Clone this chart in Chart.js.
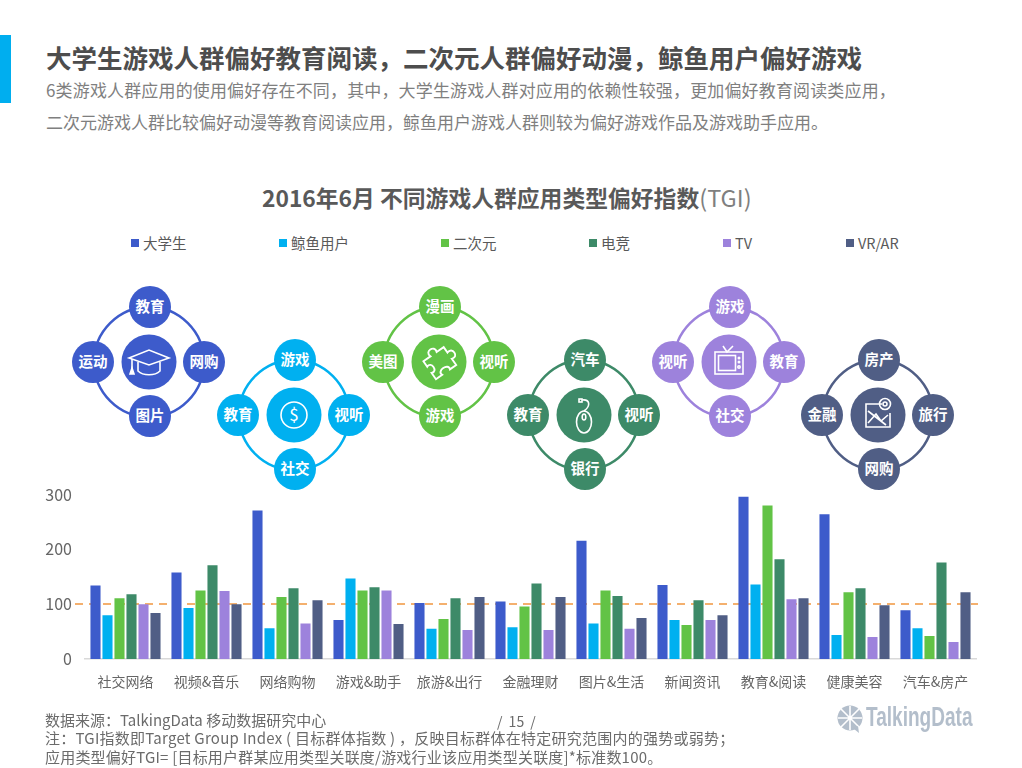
<!DOCTYPE html>
<html lang="zh">
<head>
<meta charset="utf-8">
<title>2016年6月 不同游戏人群应用类型偏好指数(TGI)</title>
<script src="https://cdn.jsdelivr.net/npm/chart.js@4"></script>
<style>
    html, body { margin: 0; padding: 0; background: #fff; }
    #page { position: relative; width: 1022px; height: 768px; overflow: hidden; font-family: "Noto Sans CJK SC", sans-serif; color: #666; }
    #page > * { position: absolute; }
    .line { white-space: nowrap; line-height: 1; }
    #accent { left: 0; top: 35px; width: 11px; height: 68px; background: #00aeef; }
    #heading { left: 46px; top: 44px; font-size: 25.5px; font-weight: 700; color: #4d4d4d; }
    #sub1 { left: 46px; top: 81px; font-size: 17px; letter-spacing: 0.15px; color: #7f7f7f; }
    #sub2 { left: 46px; top: 113px; font-size: 17px; color: #7f7f7f; }
    #chartTitle { left: 262px; top: 186px; font-size: 22.8px; font-weight: 700; color: #595959; }
    #chartTitle span { font-weight: 400; font-size: 23.5px; color: #7f7f7f; }
    .legend { top: 235px; font-size: 14.5px; color: #595959; display: flex; align-items: center; white-space: nowrap; line-height: 16px; }
    .legend i { display: block; width: 8px; height: 8px; margin-right: 4px; }
    #diagrams { left: 0; top: 0; }
    #barChart { left: 0; top: 480px; }
    .foot { left: 45px; font-size: 15px; color: #6b6b6b; }
    #pageNo { left: 497px; top: 714px; font-size: 14px; color: #6b6b6b; word-spacing: 3px; }
    #logoText { left: 866px; top: 703px; font-family: "Liberation Sans", sans-serif; font-size: 28px; font-weight: 700; color: #b3becb; transform: scaleX(0.68); transform-origin: left top; }
</style>
</head>
<body>
<div id="page">
    <div id="accent"></div>
    <div id="heading" class="line">大学生游戏人群偏好教育阅读，二次元人群偏好动漫，鲸鱼用户偏好游戏</div>
    <div id="sub1" class="line">6类游戏人群应用的使用偏好存在不同，其中，大学生游戏人群对应用的依赖性较强，更加偏好教育阅读类应用，</div>
    <div id="sub2" class="line">二次元游戏人群比较偏好动漫等教育阅读应用，鲸鱼用户游戏人群则较为偏好游戏作品及游戏助手应用。</div>
    <div id="chartTitle" class="line">2016年6月 不同游戏人群应用类型偏好指数<span>(TGI)</span></div>
    <svg id="diagrams" width="1022" height="500" xmlns="http://www.w3.org/2000/svg"></svg>
    <canvas id="barChart" width="1022" height="230"></canvas>
    <div class="foot line" style="top:712px">数据来源：TalkingData 移动数据研究中心</div>
    <div class="foot line" style="top:730px;letter-spacing:0.25px">注：TGI指数即Target Group Index ( 目标群体指数 ) ，反映目标群体在特定研究范围内的强势或弱势；</div>
    <div class="foot line" style="top:749px;letter-spacing:0.2px">应用类型偏好TGI= [目标用户群某应用类型关联度/游戏行业该应用类型关联度]*标准数100。</div>
    <div id="pageNo" class="line">/ 15 /</div>
    <div id="logoText" class="line">TalkingData</div>
    <svg style="left:837px;top:705px" width="26" height="28" xmlns="http://www.w3.org/2000/svg">
        <circle cx="13" cy="13" r="12.5" fill="#b3becb"/>
        <path d="M13 1V25M1 13H25M4 4L22 22M22 4L4 22" stroke="#fff" stroke-width="1.6"/>
        <path d="M17 24L22 28L21 21Z" fill="#b3becb"/>
    </svg>
</div>

<script>
const categories = ["社交网络", "视频&音乐", "网络购物", "游戏&助手", "旅游&出行", "金融理财", "图片&生活", "新闻资讯", "教育&阅读", "健康美容", "汽车&房产"];
const seriesNames = ["大学生", "鲸鱼用户", "二次元", "电竞", "TV", "VR/AR"];
const seriesColors = ["#3d5bcb", "#00b0f0", "#62c346", "#3d8a68", "#9d82dc", "#505e85"];

// TGI
const collegeValues = [134, 158, 271, 71, 102, 105, 216, 135, 296, 264, 89];
const whaleValues = [80, 93, 56, 147, 55, 58, 65, 71, 136, 44, 56];
const acgValues = [111, 125, 113, 125, 73, 96, 125, 62, 280, 122, 42];
const esportsValues = [118, 171, 129, 131, 111, 138, 115, 107, 182, 129, 176];
const tvValues = [100, 124, 65, 125, 53, 53, 55, 71, 109, 40, 31];
const vrValues = [84, 100, 107, 64, 113, 113, 75, 80, 111, 98, 122];
const yTicks = [0, 100, 200, 300];
const baseline = 100;

// small bubbles: top, right, bottom, left
const collegeTags = ["教育", "网购", "图片", "运动"];
const whaleTags = ["游戏", "视听", "社交", "教育"];
const acgTags = ["漫画", "视听", "游戏", "美图"];
const esportsTags = ["汽车", "视听", "银行", "教育"];
const tvTags = ["游戏", "教育", "社交", "视听"];
const vrTags = ["房产", "旅行", "网购", "金融"];

const legendLeft = [131, 279, 441, 589, 723, 846];

// legend
seriesNames.forEach((name, i) => {
    const el = document.createElement("div");
    el.className = "legend";
    el.style.left = legendLeft[i] + "px";
    el.innerHTML = `<i style="background:${seriesColors[i]}"></i>${name}`;
    document.getElementById("page").appendChild(el);
});

// icons, drawn around the centre of the big bubble
const icons = [
    `<path d="M-20 -4L0 -12L20 -4L0 3Z"/><path d="M-11 0V9C-6 14 6 14 11 9V0"/><path d="M-17 -3V8"/><path d="M-19 12L-17 6L-15 12Z" fill="#fff"/>`,
    `<circle r="13"/><text y="6" text-anchor="middle" font-size="17" fill="#fff" stroke="none">$</text>`,
    `<path transform="rotate(-35) scale(0.95)" d="M-13 -10H-4C-7 -18 7 -18 4 -10H13V-3C21 -6 21 8 13 5V13H5C8 6 -8 6 -5 13H-13V5C-6 8 -6 -6 -13 -3Z" stroke-width="2"/>`,
    `<ellipse cy="7" rx="7.5" ry="11"/><ellipse cy="2" rx="1.8" ry="3"/><rect x="-5" y="-16" width="3" height="3"/><path d="M-2 -15C6 -16 7 -9 0 -4"/>`,
    `<rect x="-14" y="-10" width="28" height="22"/><rect x="-10.5" y="-6.5" width="17" height="15"/><path d="M-6 -16L-2 -10L4 -16"/><circle cx="10" cy="-4" r="0.7"/><circle cx="10" cy="0" r="0.7"/><circle cx="10" cy="5" r="1.2"/>`,
    `<path d="M4 -11H-12V12H12V-2"/><circle cx="7" cy="-11" r="5.5"/><circle cx="7" cy="-11" r="2"/><path d="M-10 -4L8 10M-10 8L-2 -1L3 6L10 0"/>`
];

const diagrams = [
    { x: 149, y: 362, tags: collegeTags },
    { x: 294, y: 415, tags: whaleTags },
    { x: 439, y: 362, tags: acgTags },
    { x: 584, y: 415, tags: esportsTags },
    { x: 729, y: 362, tags: tvTags },
    { x: 878, y: 415, tags: vrTags }
];

const tagOffsets = [[1, -55], [55, 0], [1, 54], [-56, 0]];

document.getElementById("diagrams").innerHTML = diagrams.map((d, i) => {
    const color = seriesColors[i];
    const bubbles = d.tags.map((tag, t) => {
        const [dx, dy] = tagOffsets[t];
        return `<circle cx="${dx}" cy="${dy}" r="21" fill="${color}"/>
            <text x="${dx}" y="${dy + 5}" text-anchor="middle" font-size="14.5" font-weight="700" fill="#fff">${tag}</text>`;
    }).join("");
    return `<g transform="translate(${d.x},${d.y})" font-family="Noto Sans CJK SC">
        <circle r="55" fill="none" stroke="${color}" stroke-width="2.5"/>
        <circle r="27.5" fill="${color}"/>
        <g fill="none" stroke="#fff" stroke-width="1.6">${icons[i]}</g>
        ${bubbles}
    </g>`;
}).join("");

// dashed reference line at TGI 100, behind the bars
const baselinePlugin = {
    id: "baselinePlugin",
    beforeDatasetsDraw(chart) {
        const { ctx, scales } = chart;
        const y = Math.round(scales.y.getPixelForValue(baseline));
        ctx.save();
        ctx.strokeStyle = "#f4b06e";
        ctx.lineWidth = 2;
        ctx.setLineDash([8, 6]);
        ctx.beginPath();
        ctx.moveTo(75, y);
        ctx.lineTo(978, y);
        ctx.stroke();
        ctx.restore();
    }
};

const seriesValues = [collegeValues, whaleValues, acgValues, esportsValues, tvValues, vrValues];

new Chart(document.getElementById("barChart").getContext("2d"), {
    type: "bar",
    data: {
        labels: categories,
        datasets: seriesNames.map((name, i) => ({
            label: name,
            data: seriesValues[i],
            backgroundColor: seriesColors[i],
            categoryPercentage: 0.889,
            barPercentage: 0.84
        }))
    },
    plugins: [baselinePlugin],
    options: {
        responsive: false,
        animation: false,
        layout: { padding: { top: 4, right: 46, bottom: 0, left: 0 } },
        plugins: {
            legend: { display: false },
            tooltip: { enabled: false }
        },
        scales: {
            x: {
                grid: { display: false },
                border: { color: "#d9d9d9", width: 1.5 },
                ticks: {
                    color: "#666",
                    font: { family: "Noto Sans CJK SC", size: 14 },
                    padding: 6,
                    maxRotation: 0,
                    autoSkip: false
                },
                afterFit: (scale) => { scale.height = 51; }
            },
            y: {
                min: 0,
                max: 300,
                grid: { display: false },
                border: { display: false },
                afterBuildTicks: (scale) => { scale.ticks = yTicks.map(value => ({ value })); },
                ticks: {
                    color: "#666",
                    font: { family: "Noto Sans CJK SC", size: 16 },
                    padding: 5
                },
                afterFit: (scale) => { scale.width = 85; }
            }
        }
    }
});
</script>
</body>
</html>
